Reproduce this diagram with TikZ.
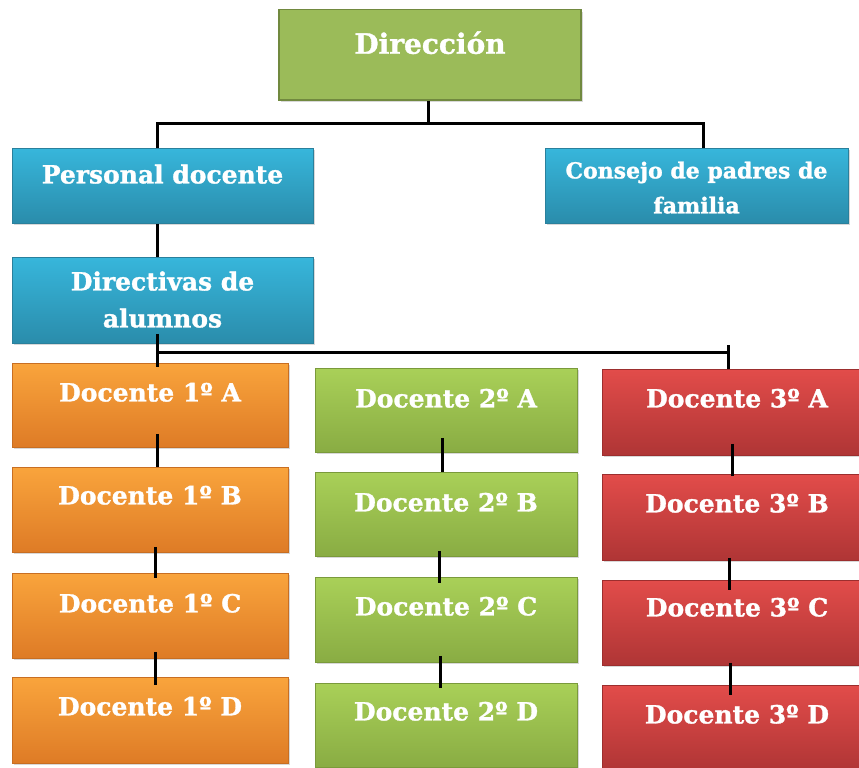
\documentclass[tikz,border=0pt]{standalone}
\usepackage{fontspec}
\setmainfont{DejaVu Serif}[BoldFeatures={FakeBold=1.2}]
\usetikzlibrary{shadows}
\definecolor{dirfill}{HTML}{9BBB59}
\definecolor{dirdraw}{HTML}{71893F}
\definecolor{bluetop}{HTML}{37B6DB}
\definecolor{bluebot}{HTML}{2A8CAB}
\definecolor{bluedraw}{HTML}{2A809C}
\definecolor{orgtop}{HTML}{F9A43C}
\definecolor{orgbot}{HTML}{DE7B26}
\definecolor{orgdraw}{HTML}{C86E22}
\definecolor{grntop}{HTML}{A9D058}
\definecolor{grnbot}{HTML}{89AC43}
\definecolor{grndraw}{HTML}{7A9A3B}
\definecolor{redtop}{HTML}{E24C4A}
\definecolor{redbot}{HTML}{AF3535}
\definecolor{reddraw}{HTML}{9C2E2E}
\tikzset{
  chartbox/.style={rectangle, inner xsep=0pt, inner ysep=0pt, text=white, align=center,
    font=\bfseries\fontsize{25}{37}\selectfont, anchor=north, line width=0.8pt,
    drop shadow={opacity=0.3, shadow xshift=2pt, shadow yshift=-2pt}},
  dirbox/.style={chartbox, fill=dirfill, draw=dirdraw, line width=1.5pt},
  bluebox/.style={chartbox, top color=bluetop, bottom color=bluebot, draw=bluedraw},
  orgbox/.style={chartbox, top color=orgtop, bottom color=orgbot, draw=orgdraw, minimum width=276},
  grnbox/.style={chartbox, top color=grntop, bottom color=grnbot, draw=grndraw, minimum width=262},
  redbox/.style={chartbox, top color=redtop, bottom color=redbot, draw=reddraw, minimum width=270},
  link/.style={line width=3pt, black}
}
\begin{document}
\begin{tikzpicture}[x=1pt,y=1pt]
\useasboundingbox (0,0) rectangle (859,-768);
\fill[white] (0,0) rectangle (859,-768);
% top levels
\node[dirbox, minimum width=302, text height=44pt, text depth=46pt, font=\bfseries\fontsize{28}{34}\selectfont] (dir) at (430,-9) {Dirección};
\node[bluebox, minimum width=301, text height=35pt, text depth=40pt] (per) at (162.5,-148) {Personal docente};
\node[bluebox, minimum width=303, text height=65pt, text depth=10pt, font=\bfseries\fontsize{22}{35}\selectfont] (con) at (696.5,-148) {Consejo de padres de\\familia};
\node[bluebox, minimum width=301, text height=70pt, text depth=16pt] (dirv) at (162.5,-257) {Directivas de\\alumnos};
% column 1
\node[orgbox, text height=38pt, text depth=46pt] (c1a) at (150,-363) {Docente 1º A};
\node[orgbox, text height=37pt, text depth=48pt] (c1b) at (150,-467) {Docente 1º B};
\node[orgbox, text height=39pt, text depth=46pt] (c1c) at (150,-573) {Docente 1º C};
\node[orgbox, text height=38pt, text depth=48pt] (c1d) at (150,-677) {Docente 1º D};
% column 2
\node[grnbox, text height=39pt, text depth=45pt] (c2a) at (446,-368) {Docente 2º A};
\node[grnbox, text height=39pt, text depth=45pt] (c2b) at (446,-472) {Docente 2º B};
\node[grnbox, text height=38pt, text depth=47pt] (c2c) at (446,-577) {Docente 2º C};
\node[grnbox, text height=37pt, text depth=47pt] (c2d) at (446,-683) {Docente 2º D};
% column 3
\node[redbox, text height=38pt, text depth=48pt] (c3a) at (737,-369) {Docente 3º A};
\node[redbox, text height=38pt, text depth=48pt] (c3b) at (737,-474) {Docente 3º B};
\node[redbox, text height=36pt, text depth=49pt] (c3c) at (737,-580) {Docente 3º C};
\node[redbox, text height=38pt, text depth=48pt] (c3d) at (737,-685) {Docente 3º D};
% connectors
\draw[link] ([xshift=-2pt]dir.south) -- ++(0,-24);
\draw[link] ([xshift=-5.5pt]per.north) -- ++(0,25) -| ([xshift=6.5pt]con.north);
\draw[link] ([xshift=-5.5pt]per.south) -- ([xshift=-5.5pt]dirv.north);
\draw[link] ([xshift=-5.5pt,yshift=10pt]dirv.south) -- ([xshift=7pt,yshift=-4pt]c1a.north);
\draw[link] ([xshift=-5.5pt,yshift=-9pt]dirv.south) -| ([xshift=-9pt]c3a.north);
\draw[link] ([xshift=-9pt,yshift=24pt]c3a.north) -- ([xshift=-9pt]c3a.north);
% column links
\draw[link] ([xshift=7pt,yshift=14pt]c1a.south) -- ([xshift=7pt]c1b.north);
\draw[link] ([xshift=5pt,yshift=6pt]c1b.south) -- ([xshift=5pt,yshift=-5pt]c1c.north);
\draw[link] ([xshift=5pt,yshift=7pt]c1c.south) -- ([xshift=5pt,yshift=-8pt]c1d.north);
\draw[link] ([xshift=-4pt,yshift=15pt]c2a.south) -- ([xshift=-4pt]c2b.north);
\draw[link] ([xshift=-7pt,yshift=6pt]c2b.south) -- ([xshift=-7pt,yshift=-6pt]c2c.north);
\draw[link] ([xshift=-6pt,yshift=7pt]c2c.south) -- ([xshift=-6pt,yshift=-5pt]c2d.north);
\draw[link] ([xshift=-5pt,yshift=12pt]c3a.south) -- ([xshift=-5pt,yshift=-2pt]c3b.north);
\draw[link] ([xshift=-8pt,yshift=3pt]c3b.south) -- ([xshift=-8pt,yshift=-10pt]c3c.north);
\draw[link] ([xshift=-7pt,yshift=3pt]c3c.south) -- ([xshift=-7pt,yshift=-10pt]c3d.north);
\end{tikzpicture}
\end{document}
